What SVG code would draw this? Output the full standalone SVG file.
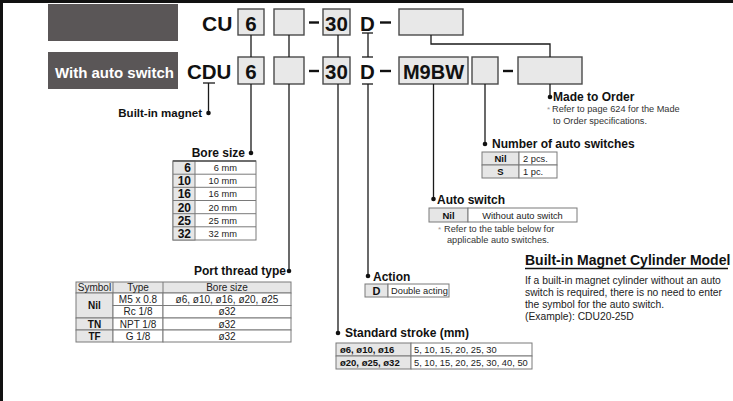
<svg xmlns="http://www.w3.org/2000/svg" width="733" height="401" viewBox="0 0 733 401">
<style>
text{font-family:"Liberation Sans",Arial,Helvetica,sans-serif;}
.code{font-size:20.5px;font-weight:bold;fill:#111;}
.mid{text-anchor:middle;}
.end{text-anchor:end;}
.box{fill:#e8e8e8;stroke:#4a4a4a;stroke-width:1.4;}
.gbox{fill:#5a5657;}
.dash{stroke:#111;stroke-width:2.4;}
.ln{stroke:#1a1a1a;stroke-width:1.3;fill:none;}
.dot{fill:#111;}
.lbl{font-size:12px;font-weight:bold;fill:#111;}
.cell{fill:#fff;stroke:#7a7a7a;stroke-width:1;}
.hcell{fill:#e6e6e6;stroke:#7a7a7a;stroke-width:1;}
.t{font-size:9.3px;fill:#222;}
.tb{font-size:9.5px;font-weight:bold;fill:#111;}
.note{font-size:9.2px;fill:#333;}
.star{font-size:8px;fill:#999;}
.body{font-size:10.3px;fill:#222;}
</style>
<rect x="0" y="0" width="733" height="401" fill="#fff"/>
<rect x="0" y="0" width="733" height="3" fill="#111"/>
<rect x="0" y="0" width="3" height="401" fill="#111"/>

<g id="row-cu">
  <rect class="gbox" x="48" y="4" width="130" height="37"/>
  <text class="code" x="202" y="30.5" style="font-size:21px">CU</text>
  <rect class="box" x="238" y="9" width="26" height="26"/>
  <text class="code mid" x="251" y="30.5">6</text>
  <rect class="box" x="274" y="9" width="30" height="26"/>
  <line class="dash" x1="309" y1="22.5" x2="319" y2="22.5"/>
  <rect class="box" x="323" y="9" width="27" height="26"/>
  <text class="code mid" x="336.5" y="30.5">30</text>
  <text class="code mid" x="367.5" y="30.5">D</text>
  <line class="dash" x1="380" y1="22.5" x2="391" y2="22.5"/>
  <rect class="box" x="399" y="9" width="64" height="26"/>
</g>

<g id="row-cdu">
  <rect class="gbox" x="48" y="52" width="130" height="37"/>
  <text x="55" y="77.5" style="font-size:15px;font-weight:bold;fill:#fff">With auto switch</text>
  <text class="code" x="187" y="78.5">CDU</text>
  <rect class="box" x="238" y="57" width="26" height="27"/>
  <text class="code mid" x="251" y="79">6</text>
  <rect class="box" x="274" y="57" width="30" height="27"/>
  <line class="dash" x1="309" y1="71" x2="319" y2="71"/>
  <rect class="box" x="323" y="57" width="27" height="27"/>
  <text class="code mid" x="336.5" y="79">30</text>
  <text class="code mid" x="367.5" y="79">D</text>
  <line class="dash" x1="380" y1="71" x2="391" y2="71"/>
  <rect class="box" x="399" y="57" width="69" height="27"/>
  <text class="code mid" x="433.5" y="79" style="font-size:20px">M9BW</text>
  <rect class="box" x="472" y="57" width="26" height="27"/>
  <line class="dash" x1="503" y1="71" x2="513" y2="71"/>
  <rect class="box" x="518" y="57" width="64" height="27"/>
</g>

<g id="connectors">
  <line class="ln" x1="203" y1="83" x2="215" y2="83"/>
  <line class="ln" x1="208.5" y1="83" x2="208.5" y2="113"/>
  <circle class="dot" cx="208.5" cy="113" r="2.3"/>
  <line class="ln" x1="251" y1="35" x2="251" y2="57"/>
  <line class="ln" x1="251" y1="84" x2="251" y2="153"/>
  <circle class="dot" cx="251" cy="153" r="2.3"/>
  <line class="ln" x1="289" y1="35" x2="289" y2="57"/>
  <line class="ln" x1="289" y1="84" x2="289" y2="271"/>
  <circle class="dot" cx="289" cy="271" r="2.3"/>
  <line class="ln" x1="338" y1="35" x2="338" y2="57"/>
  <line class="ln" x1="338" y1="84" x2="338" y2="333"/>
  <circle class="dot" cx="338" cy="333" r="2.3"/>
  <line class="ln" x1="362" y1="33" x2="373" y2="33"/>
  <line class="ln" x1="368" y1="33" x2="368" y2="57"/>
  <line class="ln" x1="362" y1="57" x2="373" y2="57"/>
  <line class="ln" x1="362" y1="84" x2="373" y2="84"/>
  <line class="ln" x1="368" y1="84" x2="368" y2="276"/>
  <circle class="dot" cx="368" cy="276" r="2.3"/>
  <path class="ln" d="M431,35 V44 H550 V57"/>
  <line class="ln" x1="433.5" y1="84" x2="433.5" y2="199"/>
  <circle class="dot" cx="433.5" cy="199" r="2.3"/>
  <line class="ln" x1="485" y1="84" x2="485" y2="144"/>
  <circle class="dot" cx="485" cy="144" r="2.3"/>
  <line class="ln" x1="550" y1="84" x2="550" y2="97"/>
  <circle class="dot" cx="550" cy="97" r="2.3"/>
</g>

<g id="built-in-magnet">
  <text class="lbl end" x="202" y="117" style="font-size:11.5px">Built-in magnet</text>
</g>

<g id="bore-size">
  <text class="lbl end" x="245" y="157">Bore size</text>
  <rect class="cell" x="173" y="161" width="83" height="79"/>
  <rect class="hcell" x="173" y="161" width="22" height="79"/>
  <line class="ln" x1="173" y1="161" x2="256" y2="161" style="stroke:#555"/>
  <g stroke="#7a7a7a" stroke-width="1">
    <line x1="173" y1="174.2" x2="256" y2="174.2"/>
    <line x1="173" y1="187.3" x2="256" y2="187.3"/>
    <line x1="173" y1="200.5" x2="256" y2="200.5"/>
    <line x1="173" y1="213.7" x2="256" y2="213.7"/>
    <line x1="173" y1="226.8" x2="256" y2="226.8"/>
  </g>
  <g class="tb end" style="font-size:12px">
    <text x="191" y="172">6</text>
    <text x="191" y="185.2">10</text>
    <text x="191" y="198.3">16</text>
    <text x="191" y="211.5">20</text>
    <text x="191" y="224.7">25</text>
    <text x="191" y="237.8">32</text>
  </g>
  <g class="t end">
    <text x="237" y="171">6 mm</text>
    <text x="237" y="184.2">10 mm</text>
    <text x="237" y="197.3">16 mm</text>
    <text x="237" y="210.5">20 mm</text>
    <text x="237" y="223.7">25 mm</text>
    <text x="237" y="236.8">32 mm</text>
  </g>
</g>

<g id="port-thread-type">
  <text class="lbl end" x="286" y="275">Port thread type</text>
  <rect class="hcell" x="76" y="282" width="215" height="11"/>
  <rect class="hcell" x="76" y="293" width="37" height="25"/>
  <rect class="hcell" x="76" y="318" width="37" height="12"/>
  <rect class="hcell" x="76" y="330" width="37" height="12"/>
  <rect class="cell" x="113" y="293" width="50" height="12.5"/>
  <rect class="cell" x="163" y="293" width="128" height="12.5"/>
  <rect class="cell" x="113" y="305.5" width="50" height="12.5"/>
  <rect class="cell" x="163" y="305.5" width="128" height="12.5"/>
  <rect class="cell" x="113" y="318" width="50" height="12"/>
  <rect class="cell" x="163" y="318" width="128" height="12"/>
  <rect class="cell" x="113" y="330" width="50" height="12"/>
  <rect class="cell" x="163" y="330" width="128" height="12"/>
  <line x1="113" y1="282" x2="113" y2="293" stroke="#7a7a7a"/>
  <line x1="163" y1="282" x2="163" y2="293" stroke="#7a7a7a"/>
  <g class="t mid" style="font-size:10px">
    <text x="94.5" y="291">Symbol</text>
    <text x="138" y="291">Type</text>
    <text x="227" y="291">Bore size</text>
    <text x="138" y="302.5">M5 x 0.8</text>
    <text x="227" y="302.5">ø6, ø10, ø16, ø20, ø25</text>
    <text x="138" y="315">Rc 1/8</text>
    <text x="227" y="315">ø32</text>
    <text x="138" y="327.5">NPT 1/8</text>
    <text x="227" y="327.5">ø32</text>
    <text x="138" y="339.5">G 1/8</text>
    <text x="227" y="339.5">ø32</text>
  </g>
  <g class="tb mid" style="font-size:10px">
    <text x="94.5" y="309">Nil</text>
    <text x="94.5" y="327.5">TN</text>
    <text x="94.5" y="339.5">TF</text>
  </g>
</g>

<g id="action">
  <text class="lbl" x="373" y="281">Action</text>
  <rect class="hcell" x="365" y="284" width="23" height="13"/>
  <rect class="cell" x="388" y="284" width="61" height="13"/>
  <text class="tb mid" x="376.5" y="294.5" style="font-size:11px">D</text>
  <text class="t" x="391" y="294">Double acting</text>
</g>

<g id="standard-stroke">
  <text class="lbl" x="345" y="337">Standard stroke (mm)</text>
  <rect class="hcell" x="336" y="343" width="75" height="13"/>
  <rect class="hcell" x="336" y="356" width="75" height="13"/>
  <rect class="cell" x="411" y="343" width="121" height="13"/>
  <rect class="cell" x="411" y="356" width="121" height="13"/>
  <text class="tb" x="340" y="353">ø6, ø10, ø16</text>
  <text class="tb" x="340" y="366">ø20, ø25, ø32</text>
  <text class="t" x="414" y="353">5, 10, 15, 20, 25, 30</text>
  <text class="t" x="414" y="366">5, 10, 15, 20, 25, 30, 40, 50</text>
</g>

<g id="auto-switch">
  <text class="lbl" x="437" y="204">Auto switch</text>
  <rect class="hcell" x="429" y="208" width="39" height="14"/>
  <rect class="cell" x="468" y="208" width="109" height="14"/>
  <text class="tb mid" x="448.5" y="218.5">Nil</text>
  <text class="t mid" x="522.5" y="218.5">Without auto switch</text>
  <text class="star" x="438" y="232">*</text>
  <text class="note" x="444" y="232">Refer to the table below for</text>
  <text class="note" x="447" y="243">applicable auto switches.</text>
</g>

<g id="number-of-auto-switches">
  <text class="lbl" x="492" y="148">Number of auto switches</text>
  <rect class="hcell" x="482" y="152" width="37" height="13"/>
  <rect class="hcell" x="482" y="165" width="37" height="13"/>
  <rect class="cell" x="519" y="152" width="38" height="13"/>
  <rect class="cell" x="519" y="165" width="38" height="13"/>
  <text class="tb mid" x="500.5" y="162">Nil</text>
  <text class="tb mid" x="500.5" y="175">S</text>
  <text class="t" x="523" y="162">2 pcs.</text>
  <text class="t" x="523" y="175">1 pc.</text>
</g>

<g id="made-to-order">
  <text class="lbl" x="553" y="101">Made to Order</text>
  <text class="star" x="547" y="112">*</text>
  <text class="note" x="552" y="112">Refer to page 624 for the Made</text>
  <text class="note" x="553" y="124">to Order specifications.</text>
</g>

<g id="built-in-magnet-cylinder-model">
  <text x="525" y="265" style="font-size:14px;font-weight:bold;fill:#111">Built-in Magnet Cylinder Model</text>
  <line x1="525" y1="268.5" x2="728" y2="268.5" stroke="#111" stroke-width="1.5"/>
  <text class="body" x="525" y="284">If a built-in magnet cylinder without an auto</text>
  <text class="body" x="525" y="296">switch is required, there is no need to enter</text>
  <text class="body" x="525" y="308">the symbol for the auto switch.</text>
  <text class="body" x="525" y="320">(Example): CDU20-25D</text>
</g>
</svg>
